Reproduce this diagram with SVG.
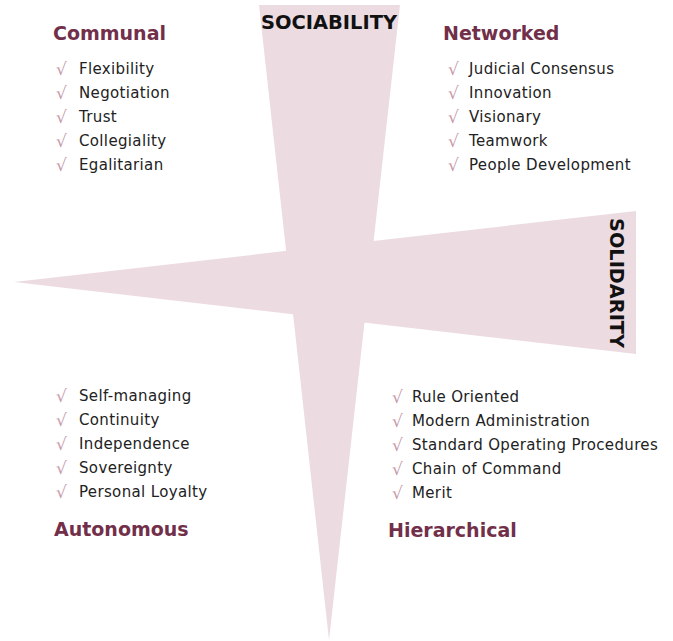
<svg xmlns="http://www.w3.org/2000/svg" width="673" height="641" viewBox="0 0 673 641">
<style>
.shape{fill:#ecdce2}
.axis{font-family:"DejaVu Sans","Liberation Sans",sans-serif;font-weight:bold;font-size:20px;fill:#111}
.head{font-family:"DejaVu Sans","Liberation Sans",sans-serif;font-weight:bold;font-size:19px;fill:#722f4a}
.item{font-family:"DejaVu Sans","Liberation Sans",sans-serif;font-size:15px;letter-spacing:0.35px;fill:#222}
.chk{font-family:"DejaVu Sans","Liberation Sans",sans-serif;font-size:17px;fill:#c99aab}
</style>
<g id="axes">
<polygon class="shape" points="259,5 400,5 329,640"/>
<polygon class="shape" points="636,211 636,354 14,282"/>
</g>
<g id="sociability"><text class="axis" x="329" y="29" text-anchor="middle" textLength="136" lengthAdjust="spacingAndGlyphs">SOCIABILITY</text></g>
<g id="solidarity"><text class="axis" transform="translate(610,283) rotate(90)" text-anchor="middle" textLength="130" lengthAdjust="spacingAndGlyphs">SOLIDARITY</text></g>
<g id="communal">
<text class="head" x="53" y="40">Communal</text>
<text class="chk" x="56" y="75">√</text><text class="item" x="79" y="74">Flexibility</text>
<text class="chk" x="56" y="99">√</text><text class="item" x="79" y="98">Negotiation</text>
<text class="chk" x="56" y="123">√</text><text class="item" x="79" y="122">Trust</text>
<text class="chk" x="56" y="147">√</text><text class="item" x="79" y="146">Collegiality</text>
<text class="chk" x="56" y="171">√</text><text class="item" x="79" y="170">Egalitarian</text>
</g>
<g id="networked">
<text class="head" x="443" y="40">Networked</text>
<text class="chk" x="448" y="75">√</text><text class="item" x="469" y="74">Judicial Consensus</text>
<text class="chk" x="448" y="99">√</text><text class="item" x="469" y="98">Innovation</text>
<text class="chk" x="448" y="123">√</text><text class="item" x="469" y="122">Visionary</text>
<text class="chk" x="448" y="147">√</text><text class="item" x="469" y="146">Teamwork</text>
<text class="chk" x="448" y="171">√</text><text class="item" x="469" y="170">People Development</text>
</g>
<g id="autonomous">
<text class="chk" x="56" y="402">√</text><text class="item" x="79" y="401">Self-managing</text>
<text class="chk" x="56" y="426">√</text><text class="item" x="79" y="425">Continuity</text>
<text class="chk" x="56" y="450">√</text><text class="item" x="79" y="449">Independence</text>
<text class="chk" x="56" y="474">√</text><text class="item" x="79" y="473">Sovereignty</text>
<text class="chk" x="56" y="498">√</text><text class="item" x="79" y="497">Personal Loyalty</text>
<text class="head" x="54" y="536">Autonomous</text>
</g>
<g id="hierarchical">
<text class="chk" x="392" y="403">√</text><text class="item" x="412" y="402">Rule Oriented</text>
<text class="chk" x="392" y="427">√</text><text class="item" x="412" y="426">Modern Administration</text>
<text class="chk" x="392" y="451">√</text><text class="item" x="412" y="450">Standard Operating Procedures</text>
<text class="chk" x="392" y="475">√</text><text class="item" x="412" y="474">Chain of Command</text>
<text class="chk" x="392" y="499">√</text><text class="item" x="412" y="498">Merit</text>
<text class="head" x="388" y="537">Hierarchical</text>
</g>
<g id="connectors"></g>
</svg>
